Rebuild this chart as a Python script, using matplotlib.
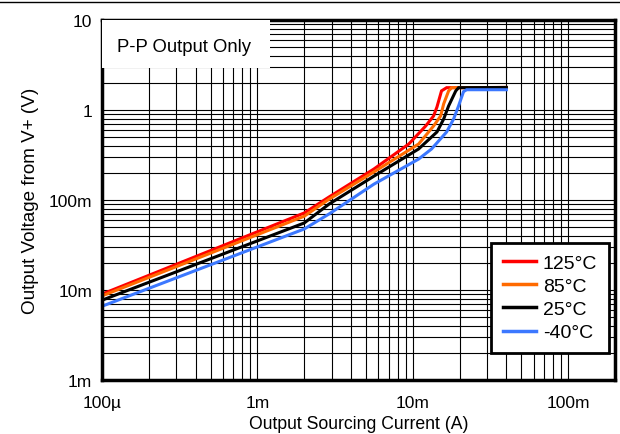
import matplotlib
matplotlib.use("Agg")
import matplotlib.pyplot as plt
from matplotlib.lines import Line2D
from matplotlib.ticker import FixedLocator, LogLocator, NullFormatter

plt.rcParams['font.family'] = ['Liberation Sans', 'DejaVu Sans']

# (A, V)
i_125 = [100e-6, 2e-3, 2.89e-3, 5.62e-3, 9.42e-3, 12.1e-3, 13.6e-3, 14.3e-3, 15.3e-3, 16.5e-3, 40e-3]
v_125 = [9.0e-3, 71.7e-3, 108e-3, 221e-3, 419e-3, 664e-3, 858e-3, 1.08, 1.63, 1.77, 1.78]

i_85 = [100e-6, 2e-3, 2.89e-3, 5.62e-3, 10.9e-3, 13.6e-3, 15.1e-3, 15.8e-3, 17.0e-3, 17.8e-3, 40e-3]
v_85 = [8.6e-3, 66e-3, 102e-3, 205e-3, 419e-3, 664e-3, 858e-3, 1.17, 1.63, 1.77, 1.78]

i_25 = [100e-6, 2e-3, 2.89e-3, 5.62e-3, 10.9e-3, 14.3e-3, 15.8e-3, 17.0e-3, 18.9e-3, 19.7e-3, 40e-3]
v_25 = [7.7e-3, 55.5e-3, 90e-3, 184e-3, 369e-3, 570e-3, 794e-3, 1.11, 1.63, 1.77, 1.78]

i_m40 = [100e-6, 2e-3, 2.89e-3, 5.62e-3, 10.9e-3, 13.2e-3, 16.5e-3, 18.3e-3, 19.7e-3, 21.2e-3, 22.2e-3, 40e-3]
v_m40 = [6.6e-3, 47.6e-3, 69.9e-3, 150e-3, 285e-3, 369e-3, 570e-3, 794e-3, 1.11, 1.6, 1.68, 1.68]

labels = ["125°C", "85°C", "25°C", "-40°C"]
colors = ["#ff0000", "#ff6a00", "#000000", "#3c78ff"]

x_ticks = [100e-6, 1e-3, 10e-3, 100e-3]
x_ticklabels = ["100µ", "1m", "10m", "100m"]
y_ticks = [1e-3, 10e-3, 100e-3, 1, 10]
y_ticklabels = ["1m", "10m", "100m", "1", "10"]

fig = plt.figure(figsize=(6.2, 4.35), dpi=100)
ax = fig.add_axes([102 / 620, 1 - 381 / 435, 513 / 620, 360 / 435])

series = [(i_125, v_125), (i_85, v_85), (i_25, v_25), (i_m40, v_m40)]
for (xs, ys), lab, col in zip(series, labels, colors):
    ax.plot(xs, ys, color=col, lw=2.2, label=lab, solid_joinstyle='miter')

ax.set_xscale('log')
ax.set_yscale('log')
ax.set_xlim(100e-6, 200e-3)
ax.set_ylim(1e-3, 10)

ax.xaxis.set_major_locator(FixedLocator(x_ticks))
ax.set_xticklabels(x_ticklabels)
ax.yaxis.set_major_locator(FixedLocator(y_ticks))
ax.set_yticklabels(y_ticklabels)
ax.xaxis.set_minor_locator(LogLocator(base=10, subs=range(2, 10), numticks=20))
ax.yaxis.set_minor_locator(LogLocator(base=10, subs=range(2, 10), numticks=20))
ax.xaxis.set_minor_formatter(NullFormatter())
ax.yaxis.set_minor_formatter(NullFormatter())

ax.grid(True, which='both', color='black', lw=0.8)
ax.set_axisbelow(True)
ax.tick_params(which='both', length=0, labelsize=12.5)
ax.tick_params(axis='x', pad=11)
ax.tick_params(axis='y', pad=7)
for s in ax.spines.values():
    s.set_linewidth(2.5)

ax.set_xlabel("Output Sourcing Current (A)", fontsize=12.7, labelpad=3.5)
ax.set_ylabel("Output Voltage from V+ (V)", fontsize=13.6, labelpad=7)

# white patch behind the label text
ax.add_patch(plt.Rectangle((0, 1 - 48 / 360), 168 / 513, 48 / 360, transform=ax.transAxes,
                           facecolor='white', edgecolor='none', zorder=4))
ax.text(0.029, 0.925, "P-P Output Only", transform=ax.transAxes, fontsize=13.3,
        va='center', ha='left', zorder=5)

leg = ax.legend(loc='lower right', bbox_to_anchor=(0.988, 0.075), fontsize=14,
                frameon=True, fancybox=False, edgecolor='black', framealpha=1,
                handlelength=1.7, handletextpad=0.35, labelspacing=0.28,
                borderpad=0.6, borderaxespad=0)
leg.get_frame().set_linewidth(2)
for h in leg.get_lines():
    h.set_linewidth(2.5)

fig.add_artist(Line2D([0, 1], [1 - 3 / 435, 1 - 3 / 435], color='black', lw=1))

fig.savefig("out.png", dpi=100)
